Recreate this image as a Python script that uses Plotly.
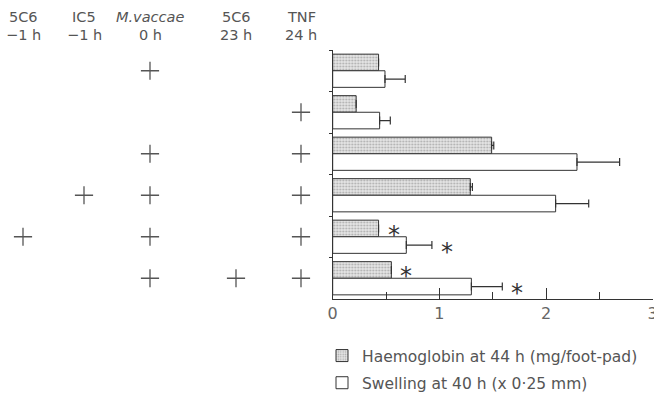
import plotly.graph_objects as go

# ---- data ----
rows = ["r1", "r2", "r3", "r4", "r5", "r6"]
treatments = ["5C6\n−1 h", "IC5\n−1 h", "M.vaccae\n0 h", "5C6\n23 h", "TNF\n24 h"]
# treatment matrix: rows x columns (1 = given)
given = [
    [0, 0, 1, 0, 0],
    [0, 0, 0, 0, 1],
    [0, 0, 1, 0, 1],
    [0, 1, 1, 0, 1],
    [1, 0, 1, 0, 1],
    [0, 0, 1, 1, 1],
]
haemoglobin = [0.43, 0.22, 1.49, 1.29, 0.43, 0.55]
haemoglobin_err = [None, None, 0.02, 0.02, None, None]
swelling = [0.49, 0.44, 2.29, 2.09, 0.69, 1.30]
swelling_err = [0.19, 0.10, 0.40, 0.31, 0.24, 0.29]
hb_sig = [0, 0, 0, 0, 1, 1]
sw_sig = [0, 0, 0, 0, 1, 1]
x_ticks = [0, 1, 2, 3]
x_minor_ticks = [0.5, 1.5, 2.5]

# ---- layout constants ----
W, H = 654, 401
PX0, PX1 = 332.7, 652.7          # pixel span of value axis
col_px = [23, 84, 150, 236, 301]  # table column centres (pixels)
FONT = "DejaVu Sans"
INK = "#555"

fig = go.Figure()

fig.add_trace(go.Bar(
    y=rows, x=haemoglobin, orientation="h", name="Haemoglobin at 44 h (mg/foot-pad)",
    marker=dict(color="#e2e2e2", line=dict(color="#333", width=1),
                pattern=dict(shape=".", fgcolor="#aaa", bgcolor="#e6e6e6", size=3, solidity=0.3)),
    error_x=dict(type="data", array=haemoglobin_err, arrayminus=[0] * 6, symmetric=False,
                 color="#333", thickness=1.2, width=4),
    legendgroup="a", xaxis="x", yaxis="y",
))
fig.add_trace(go.Bar(
    y=rows, x=swelling, orientation="h", name="Swelling at 40 h (x 0·25 mm)",
    marker=dict(color="white", line=dict(color="#333", width=1)),
    error_x=dict(type="data", array=swelling_err, arrayminus=[0] * 6, symmetric=False,
                 color="#333", thickness=1.2, width=4),
    legendgroup="b", xaxis="x", yaxis="y",
))
# invisible trace so the minor-tick overlay axis is drawn
fig.add_trace(go.Scatter(x=[None], y=[None], xaxis="x3", yaxis="y", mode="markers",
                         showlegend=False, hoverinfo="skip"))

# plus signs of the treatment table
px_, py_ = [], []
for r, row in zip(rows, given):
    for c, g in enumerate(row):
        if g:
            px_.append(col_px[c])
            py_.append(r)
fig.add_trace(go.Scatter(
    x=px_, y=py_, mode="markers", xaxis="x2", yaxis="y", showlegend=False,
    marker=dict(symbol="cross-thin-open", size=13, color=INK, line=dict(color=INK, width=1.3)),
    hoverinfo="skip",
))

ann = []
# column headers
for c, t in enumerate(treatments):
    top, bot = t.split("\n")
    if top == "M.vaccae":
        top = "<i>M.vaccae</i>"
    for txt, py in ((top, 17), (bot, 35)):
        ann.append(dict(x=col_px[c], xref="x2", y=(299 - py) / 249, yref="paper",
                        text=txt, showarrow=False, xanchor="center", yanchor="middle",
                        font=dict(family=FONT, size=14.5, color=INK)))
# asterisks
for r, v, e, s in zip(rows, haemoglobin, haemoglobin_err, hb_sig):
    if s:
        ann.append(dict(x=v + (e or 0), y=r, xref="x", yref="y", text="*", showarrow=False,
                        xshift=15, yshift=2, font=dict(family=FONT, size=24, color="#333")))
for r, v, e, s in zip(rows, swelling, swelling_err, sw_sig):
    if s:
        ann.append(dict(x=v + (e or 0), y=r, xref="x", yref="y", text="*", showarrow=False,
                        xshift=15, yshift=-15, font=dict(family=FONT, size=24, color="#333")))

fig.update_layout(
    width=W, height=H, template="none",
    margin=dict(l=0, r=0, t=50, b=102, autoexpand=False),
    paper_bgcolor="white", plot_bgcolor="white",
    barmode="group", bargap=0.2, bargroupgap=0,
    font=dict(family=FONT, color=INK),
    xaxis=dict(domain=[PX0 / W, PX1 / W], range=[0, 3], tickmode="array", tickvals=x_ticks,
               ticktext=[str(t) for t in x_ticks],
               ticks="inside", ticklen=11, tickwidth=1.2, tickcolor="#333",
               ticklabeloverflow="allow",
               showline=True, linecolor="#333", linewidth=1.2, showgrid=False, zeroline=False,
               tickfont=dict(family=FONT, size=16, color="#666"), automargin=False, anchor="y"),
    xaxis3=dict(range=[0, 3], overlaying="x", tickmode="array",
                tickvals=x_minor_ticks, showticklabels=False,
                ticks="inside", ticklen=7, tickwidth=1.2, tickcolor="#333",
                showline=False, showgrid=False, zeroline=False, automargin=False,
                anchor="y", side="bottom"),
    xaxis2=dict(domain=[0, PX0 / W], range=[0, PX0], visible=False, anchor="y"),
    yaxis=dict(type="category", categoryorder="array", categoryarray=rows, range=[5.5, -0.5],
               showticklabels=False, ticks="outside", tickson="boundaries", ticklen=3,
               tickcolor="#333", showline=True, linecolor="#333", linewidth=1.2,
               showgrid=False, zeroline=False, automargin=False, anchor="x"),
    legend=dict(x=322 / W, y=(299 - 339) / 249, xanchor="left", yanchor="top",
                traceorder="grouped", tracegroupgap=4, bgcolor="rgba(0,0,0,0)",
                font=dict(family=FONT, size=15.5, color=INK)),
    annotations=ann,
)

fig.write_html("out.html")
